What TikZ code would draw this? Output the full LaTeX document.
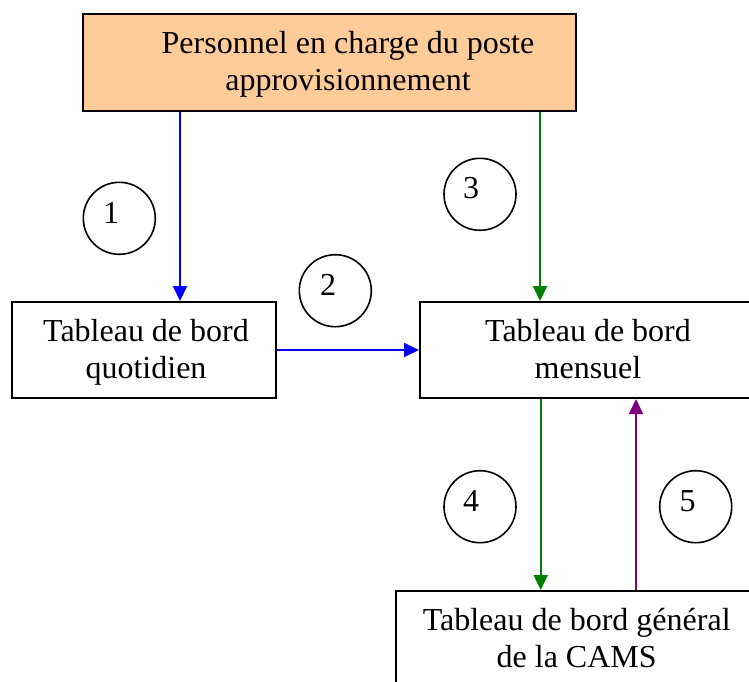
\documentclass[tikz,border=0pt]{standalone}
\usepackage{fontspec}
\setmainfont{Liberation Serif}
\usetikzlibrary{arrows.meta}
\definecolor{peach}{HTML}{FFCC99}
\definecolor{arrblue}{HTML}{0000FF}
\definecolor{arrgreen}{HTML}{008000}
\definecolor{arrpurple}{HTML}{800080}
\tikzset{
  boxnode/.style={draw=black, line width=2pt, rectangle, inner sep=0pt},
  textnode/.style={align=center, inner sep=0pt, font=\fontsize{32}{37}\selectfont},
  circnode/.style={draw=black, line width=1.6pt, circle, minimum size=72pt, inner sep=0pt},
  numnode/.style={inner sep=0pt, font=\fontsize{32}{37}\selectfont},
  conn/.style={line width=2pt, -{Triangle[length=15pt,width=14pt]}},
}
\begin{document}
\begin{tikzpicture}[x=1pt,y=-1pt]
\useasboundingbox (0,0) rectangle (749,681);
\clip (0,0) rectangle (749,681);
% boxes
\node[boxnode, fill=peach, minimum width=493.3pt, minimum height=96.7pt] (top) at (329.3,62.3) {};
\node[boxnode, minimum width=264pt, minimum height=96pt] (quot) at (144,350) {};
\node[boxnode, minimum width=336pt, minimum height=96pt] (mens) at (588,350) {};
\node[boxnode, minimum width=362pt, minimum height=98pt] (gen) at (577,640) {};
% texts
\node[textnode] (ttop) at (348,64.4) {\strut Personnel en charge du poste\\\strut approvisionnement};
\node[textnode] (tquot) at (146,352.8) {\strut Tableau de bord\\\strut quotidien};
\node[textnode] (tmens) at (588,352.8) {\strut Tableau de bord\\\strut mensuel};
\node[textnode] (tgen) at (576.7,641.1) {\strut Tableau de bord général\\\strut de la CAMS};
% circles
\node[circnode] (c1) at (119.3,218.3) {};
\node[circnode] (c2) at (335.3,290.7) {};
\node[circnode] (c3) at (480,194.3) {};
\node[circnode] (c4) at (480,506.7) {};
\node[circnode] (c5) at (695.7,506.7) {};
\node[numnode] (n1) at (111,213) {1};
\node[numnode] (n2) at (328,285) {2};
\node[numnode] (n3) at (471,188.5) {3};
\node[numnode] (n4) at (471,501) {4};
\node[numnode] (n5) at (687.5,501) {5};
% connector x positions
\coordinate (x1) at (180,0);
\coordinate (x3) at (540,0);
\coordinate (x4) at (540.7,0);
\coordinate (x5) at (636,0);
% connectors
\draw[conn, draw=arrblue, fill=arrblue] (top.south -| x1) -- (quot.north -| x1);
\draw[conn, draw=arrblue, fill=arrblue] (quot.east) -- (mens.west |- quot.east);
\draw[conn, draw=arrgreen, fill=arrgreen] (top.south -| x3) -- (mens.north -| x3);
\draw[conn, draw=arrgreen, fill=arrgreen] (mens.south -| x4) -- (gen.north -| x4);
\draw[conn, draw=arrpurple, fill=arrpurple] (gen.north -| x5) -- (mens.south -| x5);
\end{tikzpicture}
\end{document}
